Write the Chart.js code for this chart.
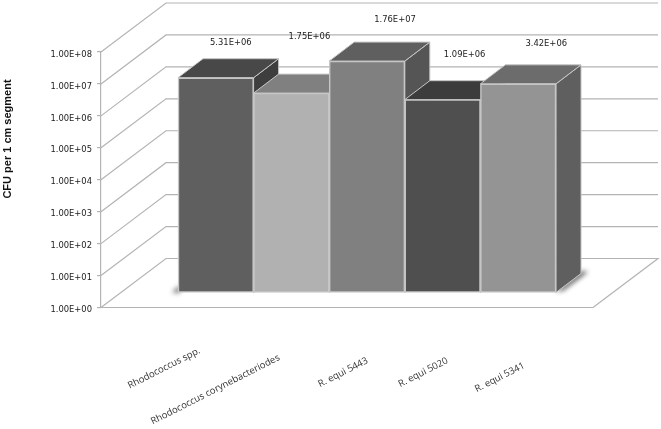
<!DOCTYPE html>
<html>
<head>
<meta charset="utf-8">
<style>html,body{margin:0;padding:0;background:#fff}canvas{display:block}</style>
<script src="https://cdn.jsdelivr.net/npm/chart.js@4"></script>
</head>
<body>
<canvas id="c" width="661" height="429"></canvas>
<script>
const categories = ["Rhodococcus spp.", "Rhodococcus corynebacteriodes", "R. equi 5443", "R. equi 5020", "R. equi 5341"];
const cfuValues = [5.31e6, 1.75e6, 1.76e7, 1.09e6, 3.42e6];
const tickValues = [1, 1e1, 1e2, 1e3, 1e4, 1e5, 1e6, 1e7, 1e8];
const frontColors = ["#5f5f5f", "#b1b1b1", "#808080", "#4f4f4f", "#949494"];
const topColors = ["#484848", "#808080", "#5f5f5f", "#3c3c3c", "#6c6c6c"];
const sideColors = ["#3e3e3e", "#707070", "#555555", "#333333", "#5f5f5f"];
const valueLabelOffsets = [[15, -34.5], [18, -56], [28, -41], [22, -45], [28, -40]];
const categoryLabelOffsets = [[-15, 51], [-11, 58], [1.5, 61], [6, 61], [7, 66]];
const yTitle = "CFU per 1 cm segment";

const GRID = "#b4b4b4";
const WALL = { dx: 65, dy: -49 };
const DEPTH = { dx: 25, dy: -19 };
const fmt = v => v.toExponential(2).toUpperCase().replace(/E\+(\d)$/, "E+0$1");
const para = (ctx, p, fill) => {
  ctx.beginPath();
  p.forEach((q, i) => i ? ctx.lineTo(q[0], q[1]) : ctx.moveTo(q[0], q[1]));
  ctx.closePath();
  ctx.fillStyle = fill;
  ctx.fill();
  ctx.strokeStyle = "#c6c6c6";
  ctx.lineWidth = 1;
  ctx.stroke();
};

const scene = {
  id: "scene",
  beforeDatasetsDraw(chart) {
    const { ctx, chartArea: a, scales } = chart;
    const y = scales.y;
    ctx.save();
    ctx.strokeStyle = GRID;
    ctx.lineWidth = 1.2;
    tickValues.forEach(v => {
      const p = y.getPixelForValue(v);
      ctx.beginPath();
      ctx.moveTo(a.left, p);
      ctx.lineTo(a.left + WALL.dx, p + WALL.dy);
      ctx.lineTo(a.right + WALL.dx, p + WALL.dy);
      if (v === 1) ctx.lineTo(a.right, a.bottom);
      ctx.stroke();
    });
    ctx.beginPath();
    ctx.moveTo(a.left, a.bottom);
    ctx.lineTo(a.right, a.bottom);
    ctx.stroke();

    const bars = chart.getDatasetMeta(0).data;
    const first = bars[0], last = bars[bars.length - 1];
    const fl = first.x - first.width / 2, lr = last.x + last.width / 2, b = first.base;
    ctx.save();
    ctx.filter = "blur(2.5px)";
    ctx.fillStyle = "#5a5a5a";
    ctx.beginPath();
    ctx.moveTo(fl - 6, b);
    ctx.lineTo(fl + 2, b - 7);
    ctx.lineTo(fl + 2, b);
    ctx.closePath();
    ctx.fill();
    ctx.fillStyle = "#4a4a4a";
    ctx.beginPath();
    ctx.moveTo(lr, b - 1);
    ctx.lineTo(lr + DEPTH.dx, b - 21);
    ctx.lineTo(lr + DEPTH.dx + 7, b - 21);
    ctx.lineTo(lr + 7, b - 2);
    ctx.closePath();
    ctx.fill();
    ctx.restore();

    bars.forEach((bar, i) => {
      const l = bar.x - bar.width / 2, r = bar.x + bar.width / 2, t = bar.y, bs = bar.base;
      para(ctx, [[r, t], [r + DEPTH.dx, t + DEPTH.dy], [r + DEPTH.dx, bs + DEPTH.dy], [r, bs]], sideColors[i]);
      para(ctx, [[l, t], [l + DEPTH.dx, t + DEPTH.dy], [r + DEPTH.dx, t + DEPTH.dy], [r, t]], topColors[i]);
    });
    ctx.restore();
  },
  afterDraw(chart) {
    const { ctx } = chart;
    const bars = chart.getDatasetMeta(0).data;
    ctx.save();
    ctx.fillStyle = "#222";
    ctx.font = "8.4px 'DejaVu Sans'";
    ctx.textAlign = "center";
    ctx.textBaseline = "middle";
    bars.forEach((bar, i) => {
      ctx.fillText(fmt(cfuValues[i]), bar.x + valueLabelOffsets[i][0], bar.y + valueLabelOffsets[i][1]);
    });
    ctx.font = "9.5px 'Open Sans'";
    ctx.fillStyle = "#333";
    ctx.textAlign = "right";
    ctx.textBaseline = "alphabetic";
    bars.forEach((bar, i) => {
      ctx.save();
      ctx.translate(bar.x + categoryLabelOffsets[i][0], chart.chartArea.bottom + categoryLabelOffsets[i][1] - 6);
      ctx.rotate(-27 * Math.PI / 180);
      ctx.fillText(categories[i], 0, 0);
      ctx.restore();
    });
    ctx.save();
    ctx.translate(7.5, 139);
    ctx.rotate(-Math.PI / 2);
    ctx.textAlign = "center";
    ctx.textBaseline = "middle";
    ctx.font = "bold 11px 'Liberation Sans'";
    ctx.fillStyle = "#111";
    ctx.fillText(yTitle, 0, 0);
    ctx.restore();
    ctx.restore();
  }
};

new Chart(document.getElementById("c"), {
  type: "bar",
  data: {
    datasets: [{
      data: cfuValues.map((v, i) => ({ x: i, y: v })),
      yAxisID: "yBar",
      base: 1,
      backgroundColor: frontColors,
      borderColor: "#c6c6c6",
      borderWidth: 1.5,
      borderSkipped: false,
      barPercentage: 1,
      categoryPercentage: 1
    }]
  },
  options: {
    responsive: false,
    animation: false,
    events: [],
    layout: { padding: { top: 52, right: 68, left: 0, bottom: 0 } },
    plugins: { legend: { display: false }, tooltip: { enabled: false }, title: { display: false } },
    scales: {
      x: {
        type: "linear",
        offset: false,
        min: -1.5185,
        max: 4.989,
        afterBuildTicks(s) { s.ticks = categories.map((c, i) => ({ value: i })); },
        ticks: { display: false },
        grid: { display: false },
        border: { display: false },
        afterFit(s) { s.height = 121.5; }
      },
      y: {
        type: "logarithmic",
        min: 1,
        max: 1e8,
        position: "left",
        afterBuildTicks(s) { s.ticks = tickValues.map(v => ({ value: v, major: true })); },
        afterFit(s) { s.width = 101; },
        ticks: {
          autoSkip: false,
          padding: 5,
          labelOffset: 2.5,
          color: "#222",
          font: { family: "'DejaVu Sans'", size: 8.4 },
          callback: v => fmt(v)
        },
        grid: { drawOnChartArea: false, drawTicks: true, tickLength: 4, color: GRID, lineWidth: 1.2 },
        border: { display: true, color: GRID, width: 1.2 }
      },
      yBar: {
        type: "logarithmic",
        display: false,
        bounds: "data",
        min: 0.339,
        max: 3.39e7
      }
    }
  },
  plugins: [scene]
});
</script>
</body>
</html>
